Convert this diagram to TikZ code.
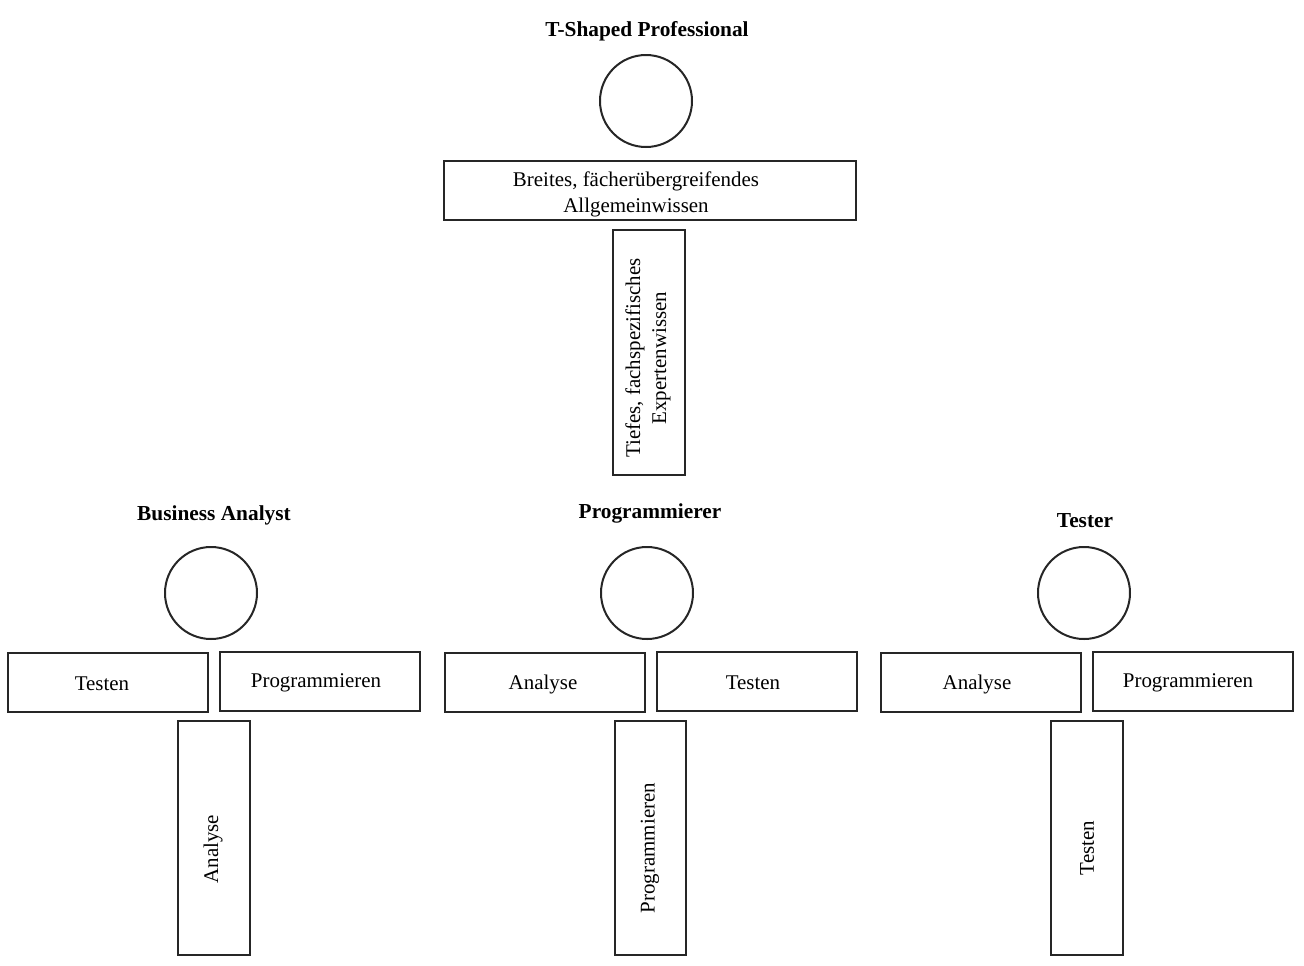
\documentclass[tikz,border=0pt]{standalone}
\usepackage{fontspec}
\setmainfont{Liberation Serif}
\begin{document}
\begin{tikzpicture}[x=0.75pt,y=-0.75pt,
  line/.style={draw=black!85,line width=1.5pt},
  head/.style={line,circle,minimum size=69pt,inner sep=0pt,outer sep=0pt},
  armbox/.style={line,rectangle,minimum width=150pt,minimum height=44.25pt,inner sep=0pt,outer sep=0pt},
  legbox/.style={line,rectangle,minimum width=53.5pt,minimum height=175.5pt,inner sep=0pt,outer sep=0pt},
  lbl/.style={font=\fontsize{15.7pt}{19.5pt}\selectfont,inner sep=0pt,align=center,yshift=-1.5pt},
  vlbl/.style={font=\fontsize{15.7pt}{19.5pt}\selectfont,inner sep=0pt,align=center,rotate=90},
  title/.style={font=\fontsize{16pt}{19pt}\selectfont\bfseries,inner sep=0pt,yshift=-1.5pt}]
\useasboundingbox (0,0) rectangle (1304,965);
% T-shaped professional
\node[title] (t0) at (647,29) {T-Shaped Professional};
\node[head] (h0) at (646,101) {};
\node[line,rectangle,minimum width=309pt,minimum height=44.25pt,inner sep=0pt] (a0) at (650,190.5) {};
\node[lbl] (a0t) at (636,192) {Breites, fächerübergreifendes\\Allgemeinwissen};
\node[line,rectangle,minimum width=54pt,minimum height=183.75pt,inner sep=0pt] (l0) at (649,352.5) {};
\node[vlbl] (l0t) at (648,358) {Tiefes, fachspezifisches\\Expertenwissen};
% Business Analyst
\node[title] (t1) at (214,513) {Business Analyst};
\node[head] (h1) at (211,593) {};
\node[armbox] (a1l) at (108,682.5) {};
\node[lbl] (a1lt) at (102,682) {Testen};
\node[armbox] (a1r) at (320,681.5) {};
\node[lbl] (a1rt) at (316,681) {Programmieren};
\node[legbox] (l1) at (214,838) {};
\node[vlbl] (l1t) at (213,849) {Analyse};
% Programmierer
\node[title] (t2) at (650,511) {Programmierer};
\node[head] (h2) at (647,593) {};
\node[armbox] (a2l) at (545,682.5) {};
\node[lbl] (a2lt) at (543,682) {Analyse};
\node[armbox] (a2r) at (757,681.5) {};
\node[lbl] (a2rt) at (753,681) {Testen};
\node[legbox] (l2) at (650.5,838) {};
\node[vlbl] (l2t) at (650,848) {Programmieren};
% Tester
\node[title] (t3) at (1085,519) {Tester};
\node[head] (h3) at (1084,593) {};
\node[armbox] (a3l) at (981,682.5) {};
\node[lbl] (a3lt) at (977,682) {Analyse};
\node[armbox] (a3r) at (1193,681.5) {};
\node[lbl] (a3rt) at (1188,681) {Programmieren};
\node[legbox] (l3) at (1087,838) {};
\node[vlbl] (l3t) at (1087,848) {Testen};
\end{tikzpicture}
\end{document}
